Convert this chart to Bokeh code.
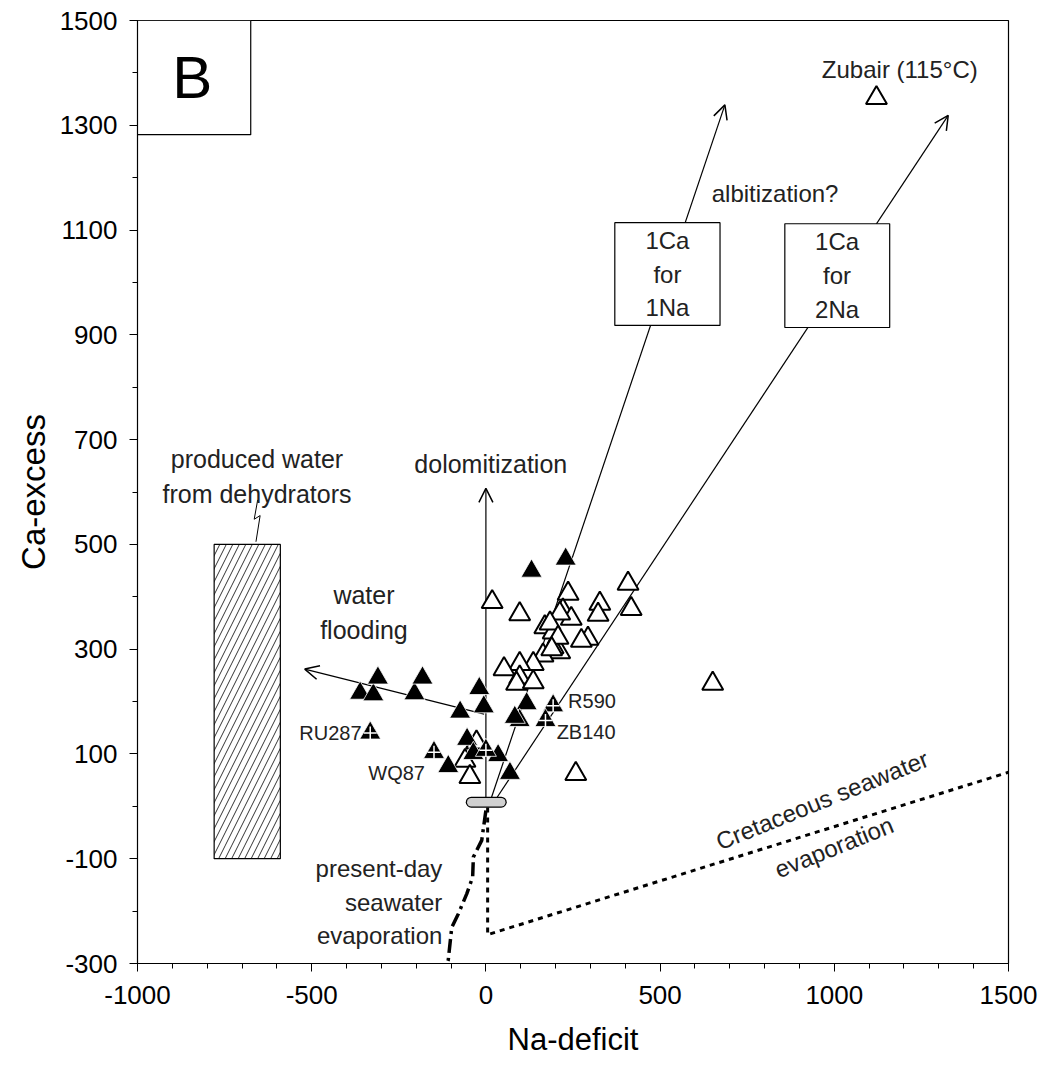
from bokeh.plotting import figure
from bokeh.models import Range1d, FixedTicker, Label, Arrow, OpenHead, CustomJSTickFormatter, Title
from bokeh.embed import file_html
from bokeh.resources import INLINE

FONT = "Liberation Sans"

# ---------------- data ----------------
filled_x = [-361, -323, -310, -205, -182, -74, -19, -6, -108, -54, -36, 35, 69,
            131, 229, 117, 97, 83]
filled_y = [216, 213, 245, 215, 245, 180, 225, 190, 76, 128, 101, 97, 63,
            449, 472, 196, 164, 170]

hollow_x = [18, 97, 236, 327, 408, 417, 322, 221, 245, 212, 169, 193, 293, 274,
            212, 193, 164, 136, 97, 52, 97, 88, 136, 184, 207, 189,
            -27, -60, -46, 651, 258, 1121]
hollow_y = [390, 367, 406, 387, 425, 377, 366, 374, 358, 368, 342, 332, 320, 316,
            294, 304, 288, 272, 272, 262, 246, 234, 237, 349, 322, 300,
            122, 87, 56, 234, 62, 1352]

marked_x = [-332, -149, 0, 193, 171]
marked_y = [140, 103, 107, 192, 164]

sample_names = ["RU287", "WQ87", "R590", "ZB140"]
sample_lx = [-357, -175, 236, 203]
sample_ly = [140, 64, 202, 142]
sample_align = ["right", "right", "left", "left"]

x_ticks = [-1000, -500, 0, 500, 1000, 1500]
x_minor = list(range(-1000, 1501, 100))
y_ticks = [-300, -100, 100, 300, 500, 700, 900, 1100, 1300, 1500]
y_minor = list(range(-300, 1501, 100))

# evaporation trends
present_x = [0, -12, -36, -38, -55, -79, -98, -108, -112]
present_y = [-8, -65, -97, -135, -167, -205, -231, -293, -300]
cret_x = [5, 5, 1500]
cret_y = [-2, -245, 65]

# reaction arrows: start x, start y, end x, end y
arrows = {
    "flood": (-5, 176, -520, 262),
    "dolo": (0, 10, 0, 607),
    "na1": (15, 15, 686, 1339),
    "na2": (30, 15, 1327, 1319),
}

# ---------------- figure ----------------
p = figure(width=1048, height=1073,
           x_range=Range1d(-1000, 1500), y_range=Range1d(-300, 1500),
           output_backend="svg", toolbar_location=None,
           min_border_left=137, min_border_right=40,
           min_border_top=20, min_border_bottom=110)
p.grid.visible = False
p.outline_line_color = "black"
p.outline_line_width = 1.2
p.background_fill_color = "white"

p.xaxis.ticker = FixedTicker(ticks=x_ticks, minor_ticks=x_minor)
p.yaxis.ticker = FixedTicker(ticks=y_ticks, minor_ticks=y_minor)
for ax in (p.xaxis[0], p.yaxis[0]):
    ax.major_tick_out = 8
    ax.major_tick_in = 0
    ax.minor_tick_out = 5
    ax.minor_tick_in = 0
    ax.axis_line_color = "black"
    ax.major_tick_line_color = "black"
    ax.minor_tick_line_color = "black"
    ax.major_label_text_font = FONT
    ax.major_label_text_font_size = "26px"
    ax.major_label_text_color = "black"
    ax.formatter = CustomJSTickFormatter(code="return tick.toString();")
p.xaxis.major_label_standoff = 14
p.yaxis.major_label_standoff = 12

# axis titles (offset slightly from the frame centre, as in the picture)
p.add_layout(Title(text="Na-deficit", align="center", offset=-26, standoff=26,
                   text_font=FONT, text_font_size="31px", text_font_style="normal",
                   text_color="black"), "below")
p.add_layout(Title(text="Ca-excess", align="center", offset=28, standoff=10,
                   text_font=FONT, text_font_size="33px", text_font_style="normal",
                   text_color="black"), "left")

# produced water box (hatched)
p.quad(left=[-780], right=[-590], bottom=[-100], top=[500], fill_color="white",
       line_color="black", line_width=1.2, hatch_pattern="/", hatch_color="#333333",
       hatch_scale=13, hatch_weight=1)
p.line([-655, -665, -648, -660], [585, 548, 555, 505], line_color="black", line_width=1)

# trend lines
p.line(present_x, present_y, line_color="black", line_width=3.5, line_dash="14 5 3 5")
p.line(cret_x, cret_y, line_color="black", line_width=3, line_dash="5 5")

for key, (xs, ys, xe, ye) in arrows.items():
    p.add_layout(Arrow(x_start=xs, y_start=ys, x_end=xe, y_end=ye, line_width=1.2,
                       line_color="black", level="underlay",
                       end=OpenHead(size=14, line_width=1.5, line_color="black")))

# reaction boxes
p.quad(left=[370, 858], right=[672, 1159], bottom=[918, 914], top=[1114, 1112],
       fill_color="white", line_color="black", line_width=1.2)
p.quad(left=[-1000], right=[-675], bottom=[1282], top=[1500],
       fill_color="white", line_color="black", line_width=1.2)

# data points
p.scatter(hollow_x, hollow_y, marker="triangle", size=21, fill_color="white",
          line_color="black", line_width=2)
p.scatter(filled_x, filled_y, marker="triangle", size=21, fill_color="black",
          line_color="white", line_width=0.8)
p.scatter(marked_x, marked_y, marker="triangle", size=21, fill_color="black",
          line_color="white", line_width=0.8)
p.scatter(marked_x, marked_y, marker="cross", size=13, line_color="white", line_width=1.5)

# capsule (seawater start point)
p.line([-42, 44], [8, 8], line_color="black", line_width=11, line_cap="round")
p.line([-42, 44], [8, 8], line_color="#d0d0d0", line_width=8.5, line_cap="round")

def lab(x, y, text, size="24px", align="center", baseline="middle", angle=0, color="#222222"):
    p.add_layout(Label(x=x, y=y, text=text, text_font=FONT, text_font_size=size,
                       text_align=align, text_baseline=baseline, text_color=color,
                       angle=angle, angle_units="deg", text_line_height=1.25))

for n, lx, ly, al in zip(sample_names, sample_lx, sample_ly, sample_align):
    lab(lx, ly, n, size="20px", align=al)

lab(-843, 1391, "B", size="60px", color="black")
lab(1188, 1406, "Zubair (115°C)")
lab(830, 1170, "albitization?")
lab(521, 1016, "1Ca\nfor\n1Na")
lab(1008, 1013, "1Ca\nfor\n2Na")
lab(14, 654, "dolomitization", size="25px")
lab(-657, 630, "produced water\nfrom dehydrators", size="25px")
lab(-350, 370, "water\nflooding", size="25px")
lab(-125, -183, "present-day\nseawater\nevaporation", align="right")
lab(965, 12, "Cretaceous seawater", angle=22)
lab(999, -78, "evaporation", angle=22)

open("out.html", "w").write(file_html(p, INLINE))
